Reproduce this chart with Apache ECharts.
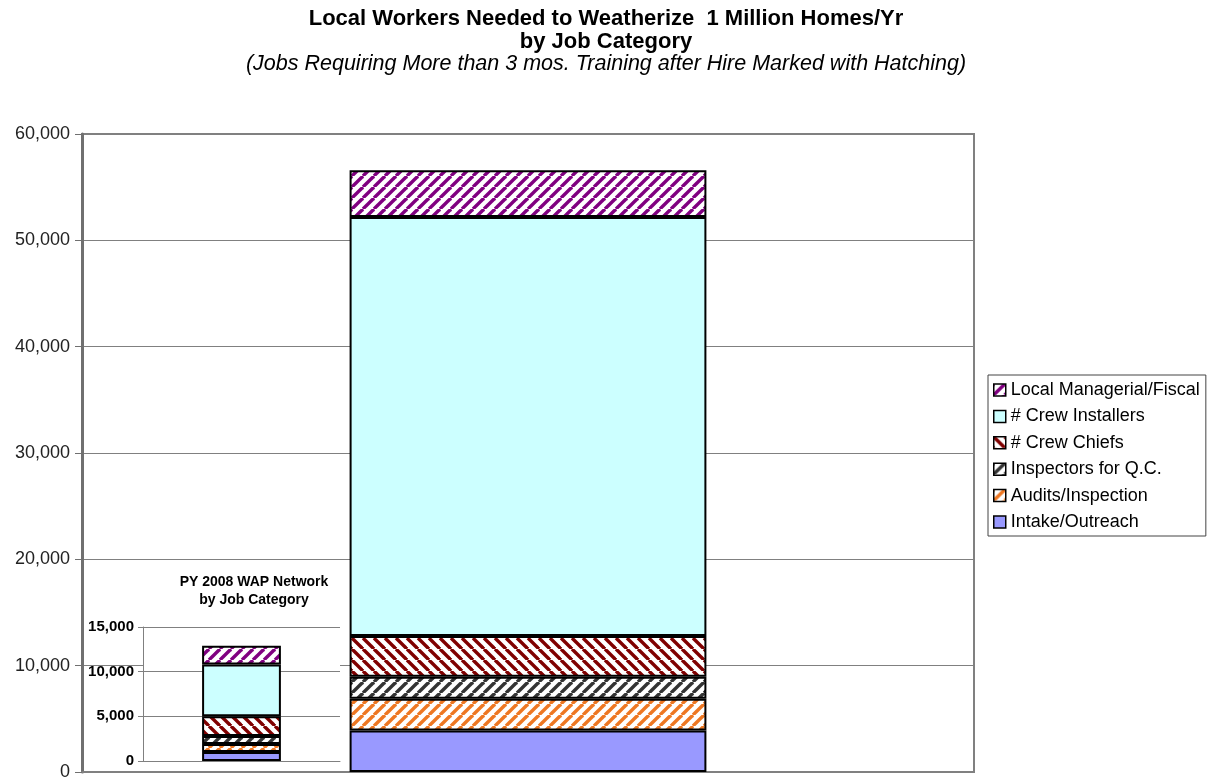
<!DOCTYPE html>
<html>
<head>
<meta charset="utf-8">
<title>Local Workers Needed to Weatherize 1 Million Homes/Yr</title>
<script src="https://cdn.jsdelivr.net/npm/echarts@6/dist/echarts.min.js"></script>
<style>
  html, body { margin: 0; padding: 0; background: #fff; }
  #chart { width: 1212px; height: 781px; }
</style>
</head>
<body>
<div id="chart"></div>
<script>
// Job categories, bottom of the stack first
const seriesNames = [
  'Intake/Outreach',
  'Audits/Inspection',
  'Inspectors for Q.C.',
  '# Crew Chiefs',
  '# Crew Installers',
  'Local Managerial/Fiscal'
];
// Workers needed for 1 million homes per year
const mainCategories = ['1 Million Homes/Yr'];
const mainValues = [3900, 3000, 2050, 3850, 39400, 4400];
// PY 2008 WAP network, same categories
const insetCategories = ['PY 2008'];
const insetValues = [1000, 900, 900, 2200, 5800, 2100];
// Value axis ticks
const mainTicks = [0, 10000, 20000, 30000, 40000, 50000, 60000];
const insetTicks = [0, 5000, 10000, 15000];

const FONT = '"Liberation Sans", Arial, sans-serif';

// Diagonal hatching tile: '/' rises to the right, '\' falls to the right
function hatch(color, dir) {
  const s = 11;
  const c = document.createElement('canvas');
  c.width = c.height = s;
  const g = c.getContext('2d');
  g.fillStyle = '#ffffff';
  g.fillRect(0, 0, s, s);
  g.strokeStyle = color;
  g.lineWidth = 3.4;
  for (let k = -1; k <= 1; k++) {
    g.beginPath();
    if (dir === '/') { g.moveTo(k * s, s); g.lineTo(k * s + s, 0); }
    else { g.moveTo(k * s, 0); g.lineTo(k * s + s, s); }
    g.stroke();
  }
  return { image: c, repeat: 'repeat' };
}

const fills = [
  '#9999FF',
  hatch('#EE7722', '/'),
  hatch('#333333', '/'),
  hatch('#800000', '\\'),
  '#CCFFFF',
  hatch('#800080', '/')
];

const fmt = v => Number(v).toLocaleString('en-US');

const series = [];
seriesNames.forEach((name, i) => {
  series.push({
    name, type: 'bar', stack: 'main', xAxisIndex: 0, yAxisIndex: 0,
    barWidth: '40%', z: 2,
    itemStyle: { color: fills[i], borderColor: '#000', borderWidth: 2 },
    data: [mainValues[i]]
  });
  series.push({
    name, type: 'bar', stack: 'inset', xAxisIndex: 1, yAxisIndex: 1,
    barWidth: '40%', z: 3,
    itemStyle: { color: fills[i], borderColor: '#000', borderWidth: 2 },
    data: [insetValues[i]]
  });
});

const titleBold = { fontFamily: FONT, fontSize: 22, fontWeight: 'bold', color: '#000', lineHeight: 23 };

const chart = echarts.init(document.getElementById('chart'), null, { renderer: 'canvas' });
chart.setOption({
  animation: false,
  backgroundColor: '#fff',
  textStyle: { fontFamily: FONT },
  title: [
    { text: 'Local Workers Needed to Weatherize  1 Million Homes/Yr', left: 'center', top: 7, padding: 0, textStyle: titleBold },
    { text: 'by Job Category', left: 'center', top: 30, padding: 0, textStyle: titleBold },
    {
      text: '(Jobs Requiring More than 3 mos. Training after Hire Marked with Hatching)',
      left: 'center', top: 53, padding: 0,
      textStyle: { fontFamily: FONT, fontSize: 21.5, fontStyle: 'italic', fontWeight: 'normal', color: '#000', lineHeight: 23 }
    },
    {
      text: 'PY 2008 WAP Network\nby Job Category',
      left: 254, top: 573, padding: 0, textAlign: 'center',
      textStyle: { fontFamily: FONT, fontSize: 14, fontWeight: 'bold', color: '#000', lineHeight: 18 }
    }
  ],
  legend: {
    orient: 'vertical',
    left: 988, top: 375,
    padding: [6, 6, 5, 5],
    backgroundColor: '#fff',
    borderColor: '#444', borderWidth: 1,
    itemWidth: 12, itemHeight: 12, itemGap: 8.4,
    icon: 'rect',
    itemStyle: { borderColor: '#000', borderWidth: 1.5 },
    textStyle: { fontFamily: FONT, fontSize: 18, color: '#000', lineHeight: 18 },
    data: seriesNames.slice().reverse()
  },
  grid: [
    { left: 82, top: 134, width: 892, height: 641, show: true, borderColor: '#808080', borderWidth: 2, backgroundColor: 'transparent' },
    { left: 143, top: 627, width: 197, height: 134, show: false }
  ],
  graphic: [
    // white plot area behind the small chart
    { type: 'rect', z: 1, shape: { x: 143, y: 627, width: 197, height: 134 }, style: { fill: '#fff' } }
  ],
  xAxis: [
    {
      gridIndex: 0, type: 'category', data: mainCategories,
      axisLine: { show: true, lineStyle: { color: '#808080', width: 2 } },
      axisTick: { show: false }, axisLabel: { show: false }
    },
    {
      gridIndex: 1, type: 'category', data: insetCategories, z: 2,
      axisLine: { show: true, lineStyle: { color: '#808080', width: 1 } },
      axisTick: { show: false }, axisLabel: { show: false }
    }
  ],
  yAxis: [
    {
      gridIndex: 0, type: 'value',
      min: mainTicks[0], max: mainTicks[mainTicks.length - 1], interval: mainTicks[1] - mainTicks[0],
      axisLine: { show: true, lineStyle: { color: '#707070', width: 3 } },
      axisTick: { show: true, length: 7, lineStyle: { color: '#707070', width: 1 } },
      axisLabel: { margin: 12, fontFamily: FONT, fontSize: 18, color: '#222', formatter: fmt },
      splitLine: { show: true, lineStyle: { color: '#808080', width: 1 } }
    },
    {
      gridIndex: 1, type: 'value', z: 2,
      min: insetTicks[0], max: insetTicks[insetTicks.length - 1], interval: insetTicks[1] - insetTicks[0],
      axisLine: { show: true, lineStyle: { color: '#808080', width: 1 } },
      axisTick: { show: true, length: 5, lineStyle: { color: '#808080', width: 1 } },
      axisLabel: { margin: 9, fontFamily: FONT, fontSize: 15, fontWeight: 'bold', color: '#000', formatter: fmt },
      splitLine: { show: true, lineStyle: { color: '#808080', width: 1 } }
    }
  ],
  series
});
</script>
</body>
</html>
